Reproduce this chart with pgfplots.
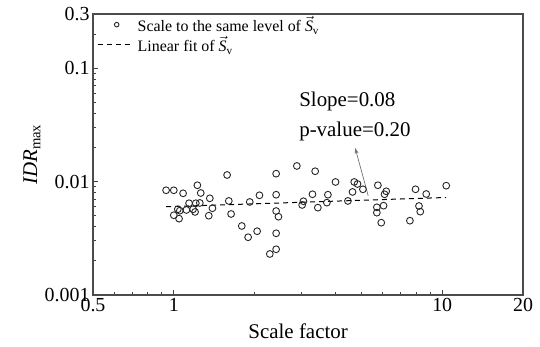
\documentclass[border=0pt]{standalone}
\usepackage{pgfplots}
\pgfplotsset{compat=1.18}
\usepackage{fontspec}
\setmainfont{Liberation Serif}
\usetikzlibrary{arrows.meta}
\begin{document}
\begin{tikzpicture}
\useasboundingbox (-93bp,-52bp) rectangle (447bp,295bp);
\begin{axis}[
  scale only axis, width=430bp, height=281bp,
  xmode=log, ymode=log,
  xmin=0.5, xmax=20, ymin=0.001, ymax=0.3,
  xtick={0.5,1,10,20}, xticklabels={0.5,1,10,20},
  ytick={0.001,0.01,0.1,0.3}, yticklabels={0.001,0.01,0.1,0.3},
  minor xtick={0.6,0.7,0.8,0.9,2,3,4,5,6,7,8,9},
  minor ytick={0.002,0.003,0.004,0.005,0.006,0.007,0.008,0.009,0.02,0.03,0.04,0.05,0.06,0.07,0.08,0.09,0.2},
  tick pos=left, tick align=inside,
  major tick length=5bp, minor tick length=3bp,
  every tick/.style={black!75, line width=0.8bp},
  axis line style={black!70, line width=1.2bp},
  /pgf/number format/assume math mode=true,
  ticklabel style={font=\fontsize{20}{24}\selectfont},
  xlabel={Scale factor},
  ylabel={\textit{IDR}\textsubscript{max}},
  label style={font=\fontsize{21}{25}\selectfont},
  xlabel style={at={(axis description cs:0.477,-0.128)}, anchor=center},
  ylabel style={at={(axis description cs:-0.142,0.5)}, anchor=center},
  legend style={draw=none, fill=none, at={(axis description cs:0,1)}, anchor=north west,
    xshift=4bp, yshift=-1bp, font=\fontsize{16}{19}\selectfont,
    nodes={font=\fontsize{16}{19}\selectfont, inner sep=1bp}, row sep=1bp,
    inner xsep=0pt, inner ysep=0pt},
  legend cell align=left,
  clip=false,
]
\addplot[only marks, mark=o, mark size=3.4bp, black!85, line width=0.9bp,
  legend image code/.code={\path[draw=none] (0bp,0bp) -- (39bp,0bp); \draw[black!85, line width=0.9bp] (19bp,0bp) circle (2.3bp);}]
  coordinates {
(0.936,0.00838) (1.000,0.00838) (1.083,0.00788) (1.224,0.00928) (1.260,0.00793)
(1.362,0.00712) (1.580,0.01143) (1.603,0.00675) (2.085,0.00757) (2.406,0.01174)
(2.406,0.00766) (1.140,0.00644) (1.208,0.00644) (1.250,0.00648) (1.035,0.00570)
(1.053,0.00554) (1.114,0.00562) (1.180,0.00570) (1.200,0.00540) (1.393,0.00582)
(1.000,0.00505) (1.046,0.00471) (1.350,0.00500) (1.635,0.00518) (1.919,0.00661)
(2.406,0.00550) (2.454,0.00490) (1.792,0.00406) (2.044,0.00365) (1.892,0.00323)
(2.406,0.00350) (2.406,0.00253) (2.279,0.00230) (2.874,0.01373) (3.363,0.01233)
(3.286,0.00773) (3.751,0.00766) (3.041,0.00671) (3.008,0.00622) (3.441,0.00589)
(3.718,0.00652) (4.004,0.00992) (4.453,0.00675) (4.633,0.00810) (4.701,0.00992)
(4.836,0.00952) (5.065,0.00855) (5.758,0.00928) (6.188,0.00821) (6.098,0.00773)
(5.709,0.00593) (6.046,0.00613) (5.709,0.00532) (5.927,0.00434) (7.955,0.00855)
(8.720,0.00777) (8.193,0.00609) (8.284,0.00543) (7.580,0.00452) (10.35,0.00920)
  };
\addlegendentry{Scale to the same level of $\vec{\textit{S}}$\textsubscript{v}}
\addplot[black, line width=1bp, dash pattern=on 5bp off 4bp,
  legend image code/.code={\path[draw=none] (0bp,0bp) -- (39bp,0bp); \draw[black, line width=1bp, dash pattern=on 5bp off 4bp] (0bp,0bp) -- (32bp,0bp);}]
  coordinates {(0.936,0.0060) (10.35,0.00724)};
\addlegendentry{Linear fit of $\vec{\textit{S}}$\textsubscript{v}}
\draw[black!55, line width=0.7bp, -{Stealth[length=6bp,width=4bp]}] (axis cs:5.3,0.0075) -- (axis cs:4.74,0.0198);
\node[anchor=base west, inner sep=0pt, font=\fontsize{21}{25}\selectfont] at (axis cs:2.93,0.0455) {Slope=0.08};
\node[anchor=base west, inner sep=0pt, font=\fontsize{21}{25}\selectfont] at (axis cs:2.93,0.0252) {p-value=0.20};
\end{axis}
\end{tikzpicture}
\end{document}
